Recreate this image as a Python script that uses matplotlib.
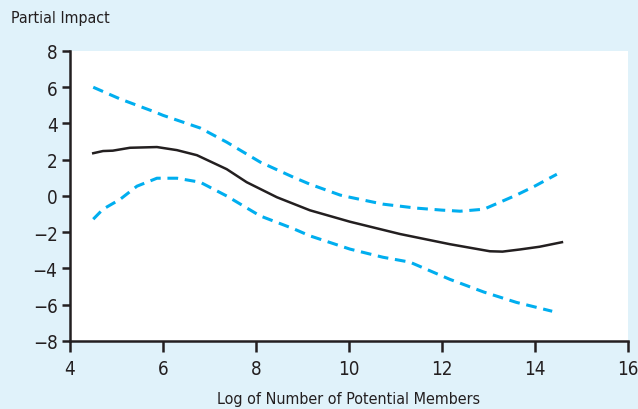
import matplotlib.pyplot as plt

plt.rcParams['font.family'] = ['DejaVu Sans']
plt.rcParams['font.stretch'] = 'condensed'

# estimate (solid black)
x_mid = [4.5, 4.71, 4.92, 5.29, 5.87, 6.3, 6.73, 7.37, 7.8, 8.45, 9.16, 10.02, 11.1, 12.17, 13.03, 13.3, 13.68, 14.1, 14.58]
y_mid = [2.36, 2.48, 2.5, 2.66, 2.7, 2.53, 2.25, 1.48, 0.76, -0.07, -0.79, -1.42, -2.1, -2.66, -3.05, -3.07, -2.95, -2.8, -2.55]

# upper band (dashed)
x_up = [4.5, 5.08, 5.83, 6.0, 6.8, 7.37, 8.09, 8.8, 9.16, 9.81, 10.02, 10.73, 11.45, 12.0, 12.39, 12.9, 13.6, 14.0, 14.47]
y_up = [6.0, 5.35, 4.63, 4.45, 3.75, 2.97, 1.87, 1.04, 0.65, 0.05, -0.07, -0.45, -0.67, -0.78, -0.84, -0.73, 0.05, 0.55, 1.2]

# lower band (dashed)
x_lo = [4.5, 4.71, 5.08, 5.44, 5.87, 6.3, 6.8, 7.37, 8.09, 8.8, 9.16, 10.02, 10.73, 11.31, 12.17, 12.9, 13.6, 14.37]
y_lo = [-1.28, -0.73, -0.18, 0.54, 0.98, 0.98, 0.76, 0.0, -1.1, -1.8, -2.2, -2.93, -3.38, -3.65, -4.6, -5.3, -5.87, -6.36]

bg = '#e0f2fa'
blue = '#00aeef'
ink = '#231f20'

fig = plt.figure(figsize=(6.38, 4.10), dpi=100, facecolor=bg)
ax = fig.add_axes([0.1097, 0.1659, 0.8746, 0.7073])
ax.set_facecolor('white')

ax.plot(x_up, y_up, color=blue, lw=2.2, dashes=(3.5, 2.2))
ax.plot(x_lo, y_lo, color=blue, lw=2.2, dashes=(3.5, 2.2))
ax.plot(x_mid, y_mid, color=ink, lw=1.8)

ax.set_xlim(4, 16)
ax.set_ylim(-8, 8)
ax.set_xticks(range(4, 17, 2))
ax.set_yticks(range(-8, 9, 2))
ax.set_yticklabels([str(v).replace('-', '\u2212') for v in range(-8, 9, 2)])

for s in ['top', 'right']:
    ax.spines[s].set_visible(False)
for s in ['left', 'bottom']:
    ax.spines[s].set_linewidth(1.8)
    ax.spines[s].set_color(ink)
ax.tick_params(axis='x', length=8, width=1.8, labelsize=13.5, pad=5, colors=ink)
ax.tick_params(axis='y', length=6, width=1.8, labelsize=13.5, pad=3, colors=ink)

ax.set_xlabel('Log of Number of Potential Members', fontsize=11.5, labelpad=9, color=ink)
fig.text(0.018, 0.955, 'Partial Impact', fontsize=11.5, va='center', ha='left', color=ink)

fig.savefig('out.png', dpi=100, facecolor=bg)
